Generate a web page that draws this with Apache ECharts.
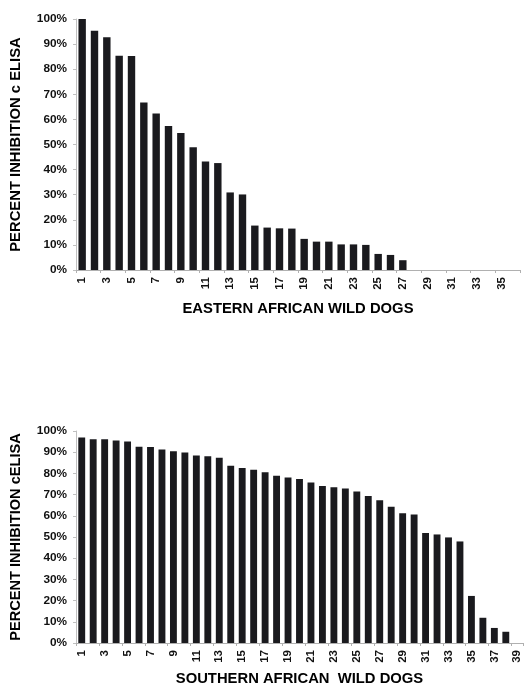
<!DOCTYPE html>
<html>
<head>
<meta charset="utf-8" />
<script src="https://cdn.jsdelivr.net/npm/echarts@6/dist/echarts.min.js"></script>
<style>
  html, body { margin: 0; padding: 0; background: #fff; }
  #myChart { width: 524px; height: 687px; }
</style>
</head>
<body>
<div id="myChart"></div>
<script>
// eastern wild dogs, 36 animals
var easternDogs = [];
for (var i = 1; i <= 36; i++) easternDogs.push(String(i));
var easternValues = [100, 95.3, 92.7, 85.4, 85.3, 66.7, 62.4, 57.4, 54.6, 48.9, 43.2, 42.6,
  30.9, 30.1, 17.7, 16.9, 16.6, 16.5, 12.4, 11.3, 11.3, 10.2, 10.2, 10.0,
  6.4, 6.0, 3.9, 0, 0, 0, 0, 0, 0, 0, 0, 0];

// southern wild dogs, 39 animals
var southernDogs = [];
for (var j = 1; j <= 39; j++) southernDogs.push(String(j));
var southernValues = [96.9, 96.1, 96.1, 95.5, 95.0, 92.6, 92.4, 91.3, 90.5, 89.8, 88.4, 88.1,
  87.4, 83.6, 82.6, 81.7, 80.6, 78.9, 78.1, 77.4, 75.7, 74.0, 73.5, 72.9,
  71.5, 69.3, 67.3, 64.3, 61.2, 60.6, 51.9, 51.2, 49.8, 47.9, 22.2, 11.9,
  7.1, 5.3, 0];

var yTicks = [0, 10, 20, 30, 40, 50, 60, 70, 80, 90, 100];

var fontFamily = "Liberation Sans, Arial, sans-serif";
var chartDom = echarts.init(document.getElementById("myChart"));

function xAxisOpt(idx, data, name, gap) {
  return {
    type: "category",
    gridIndex: idx,
    data: data,
    axisLine: { lineStyle: { color: "#b0b0b0", width: 1 } },
    axisTick: { show: true, length: 3, lineStyle: { color: "#b0b0b0" } },
    axisLabel: {
      interval: 1,
      rotate: 90,
      margin: 7,
      color: "#111",
      fontFamily: fontFamily,
      fontWeight: "bold",
      fontSize: 11.5,
    },
    name: name,
    nameLocation: "middle",
    nameGap: gap,
    nameTextStyle: {
      color: "#000",
      fontFamily: fontFamily,
      fontWeight: "bold",
      fontSize: 14.8,
    },
  };
}

function yAxisOpt(idx, name, size) {
  return {
    type: "value",
    gridIndex: idx,
    min: 0,
    max: 100,
    interval: 10,
    splitLine: { show: false },
    axisLine: { show: true, lineStyle: { color: "#c0c0c0", width: 1 } },
    axisTick: { show: true, length: 3, lineStyle: { color: "#c0c0c0" } },
    axisLabel: {
      color: "#111",
      margin: 9,
      fontFamily: fontFamily,
      fontWeight: "bold",
      fontSize: 11.8,
      formatter: function (v) {
        return yTicks.indexOf(v) >= 0 ? v + "%" : "";
      },
    },
    name: name,
    nameLocation: "middle",
    nameGap: 53,
    nameRotate: 90,
    nameTextStyle: {
      color: "#000",
      fontFamily: fontFamily,
      fontWeight: "bold",
      fontSize: size,
    },
  };
}

var option = {
  animation: false,
  backgroundColor: "#fff",
  grid: [
    { left: 76, right: 4, top: 19, height: 251 },
    { left: 76, right: 1, top: 431, height: 215 },
  ],
  xAxis: [
    xAxisOpt(0, easternDogs, "EASTERN AFRICAN WILD DOGS", 31),
    xAxisOpt(1, southernDogs, "SOUTHERN AFRICAN  WILD DOGS", 28),
  ],
  yAxis: [
    yAxisOpt(0, "PERCENT INHIBITION c ELISA", 14.8),
    yAxisOpt(1, "PERCENT INHIBITION cELISA", 14.6),
  ],
  series: [
    {
      type: "bar",
      xAxisIndex: 0,
      yAxisIndex: 0,
      data: easternValues,
      barCategoryGap: "40%",
      itemStyle: { color: "#1a1a1e" },
    },
    {
      type: "bar",
      xAxisIndex: 1,
      yAxisIndex: 1,
      data: southernValues,
      barCategoryGap: "40%",
      itemStyle: { color: "#1a1a1e" },
    },
  ],
};
chartDom.setOption(option);
</script>
</body>
</html>
